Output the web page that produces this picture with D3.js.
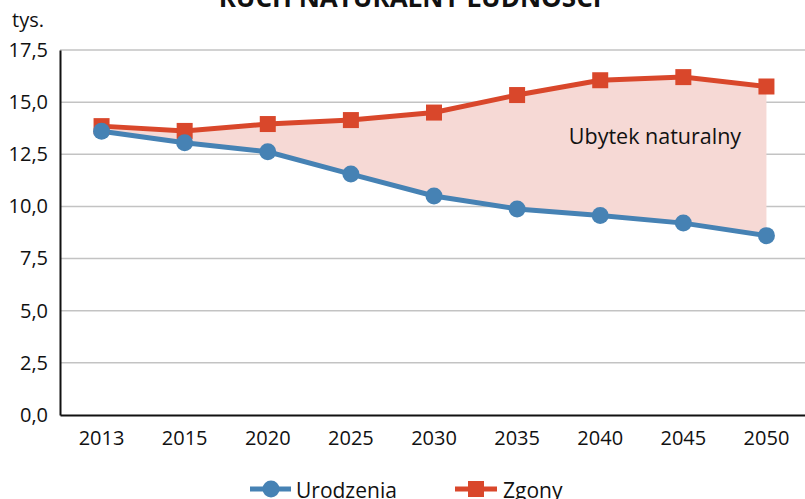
<!DOCTYPE html>
<html><head><meta charset="utf-8">
<script src="https://cdn.jsdelivr.net/npm/d3@7"></script>
<style>body{margin:0;background:#fff}svg{display:block}text{font-family:"Open Sans","Liberation Sans",sans-serif}</style>
</head><body><svg id="c" width="805" height="499"></svg>
<script>
const years = ["2013","2015","2020","2025","2030","2035","2040","2045","2050"];
const urodzenia = [13.6, 13.05, 12.62, 11.55, 10.5, 9.88, 9.57, 9.2, 8.6];
const zgony = [13.85, 13.62, 13.95, 14.14, 14.5, 15.34, 16.05, 16.2, 15.75];
const yTicks = [0, 2.5, 5, 7.5, 10, 12.5, 15, 17.5];
const title = "RUCH NATURALNY LUDNOŚCI";
const unit = "tys.";
const areaLabel = "Ubytek naturalny";
const seriesNames = ["Urodzenia", "Zgony"];
const blue = "#4682b4", red = "#d9472b", fillC = "#f6d9d5";

const svg = d3.select("#c");
const x = d3.scaleBand().domain(years).range([60, 808]);
const cx = d => x(d) + x.bandwidth() / 2;
const y = d3.scaleLinear().domain([0, 17.5]).range([415, 50]);
const fmt = d => d3.format(".1f")(d).replace(".", ",");

// title (clipped at top)
svg.append("text").attr("x", 410).attr("y", 7).attr("text-anchor", "middle")
  .attr("font-weight", "bold").attr("font-size", 26).attr("fill", "#111").text(title);
svg.append("text").attr("x", 12).attr("y", 27).attr("font-size", 20).attr("fill", "#111").text(unit);

// gridlines
svg.append("g").selectAll("line").data(yTicks.filter(d => d > 0)).join("line")
  .attr("x1", 60).attr("x2", 805).attr("y1", d => y(d)).attr("y2", d => y(d))
  .attr("stroke", "#c3c3c3").attr("stroke-width", 1.5);

// area
const area = d3.area().x((d, i) => cx(years[i])).y0((d, i) => y(urodzenia[i])).y1(d => y(d));
svg.append("path").datum(zgony).attr("d", area).attr("fill", fillC);

svg.append("text").attr("x", 655).attr("y", 144).attr("text-anchor", "middle")
  .attr("font-size", 21.5).attr("fill", "#111").text(areaLabel);

// axes
const yAxis = svg.append("g").attr("transform", "translate(60,0)")
  .call(d3.axisLeft(y).tickValues(yTicks).tickFormat(fmt).tickSize(0).tickPadding(12));
yAxis.select(".domain").attr("stroke", "#111").attr("stroke-width", 2);
yAxis.selectAll("text").attr("font-size", 20).attr("fill", "#111").attr("font-family", "Open Sans");
const xAxis = svg.append("g").attr("transform", "translate(0,415)")
  .call(d3.axisBottom(x).tickSize(0).tickPadding(16));
xAxis.select(".domain").attr("stroke", "#111").attr("stroke-width", 2);
xAxis.selectAll("text").attr("font-size", 20).attr("fill", "#111").attr("font-family", "Open Sans");

// lines
const line = d3.line().x((d, i) => cx(years[i])).y(d => y(d));
svg.append("path").datum(zgony).attr("d", line).attr("fill", "none").attr("stroke", red).attr("stroke-width", 5);
svg.append("path").datum(urodzenia).attr("d", line).attr("fill", "none").attr("stroke", blue).attr("stroke-width", 5);
svg.append("g").selectAll("rect").data(zgony).join("rect")
  .attr("x", (d, i) => cx(years[i]) - 8).attr("y", d => y(d) - 8).attr("width", 16).attr("height", 16).attr("fill", red);
svg.append("g").selectAll("circle").data(urodzenia).join("circle")
  .attr("cx", (d, i) => cx(years[i])).attr("cy", d => y(d)).attr("r", 8.5).attr("fill", blue);

// legend
const lg = svg.append("g");
lg.append("line").attr("x1", 250).attr("x2", 291).attr("y1", 489).attr("y2", 489).attr("stroke", blue).attr("stroke-width", 5);
lg.append("circle").attr("cx", 271).attr("cy", 489).attr("r", 8.5).attr("fill", blue);
lg.append("text").attr("x", 296).attr("y", 498).attr("font-size", 21).attr("fill", "#111").text(seriesNames[0]);
lg.append("line").attr("x1", 455).attr("x2", 497).attr("y1", 489).attr("y2", 489).attr("stroke", red).attr("stroke-width", 5);
lg.append("rect").attr("x", 468).attr("y", 481).attr("width", 16).attr("height", 16).attr("fill", red);
lg.append("text").attr("x", 503).attr("y", 498).attr("font-size", 21).attr("fill", "#111").text(seriesNames[1]);
</script></body></html>
